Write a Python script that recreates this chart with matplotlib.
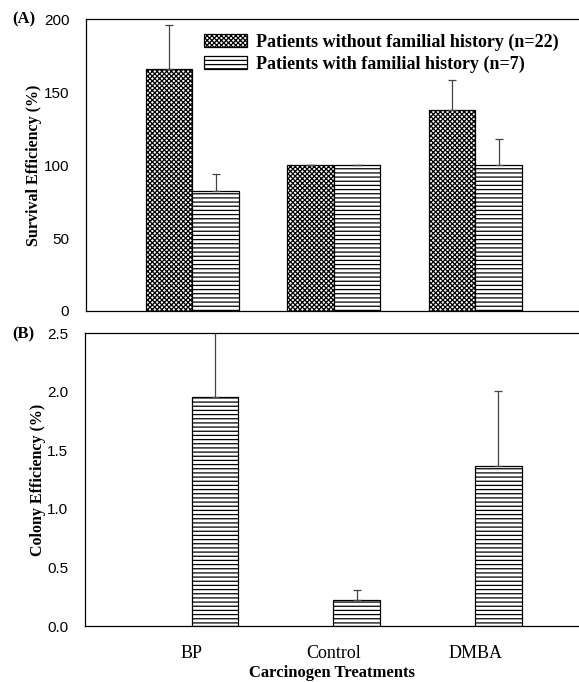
import numpy as np
import matplotlib.pyplot as plt

# data
treatments = ["BP", "Control", "DMBA"]
surv_without = [166, 100, 138]
surv_without_err = [30, 0, 20]
surv_with = [82, 100, 100]
surv_with_err = [12, 0, 18]
colony_with = [1.96, 0.22, 1.37]
colony_with_err = [0.65, 0.09, 0.64]

labels = ["Patients without familial history (n=22)",
          "Patients with familial history (n=7)"]

plt.rcParams["hatch.linewidth"] = 0.9
serif = "Liberation Serif"
sans = "Liberation Sans"

fig = plt.figure(figsize=(5.79, 6.82), dpi=100)
axA = fig.add_axes([0.1485, 0.544, 0.8515, 0.428])
axB = fig.add_axes([0.147, 0.0821, 0.853, 0.4292])

x = np.arange(len(treatments))
w = 0.329
err_kw = dict(ecolor="#444444", elinewidth=0.9, capsize=3, capthick=0.9)

axA.bar(x - w / 2, surv_without, w, color="white", edgecolor="black",
        hatch="xxxxxxx", linewidth=0.9, label=labels[0],
        yerr=[np.zeros(3), surv_without_err], error_kw=err_kw)
axA.bar(x + w / 2, surv_with, w, color="white", edgecolor="black",
        hatch="----", linewidth=0.9, label=labels[1],
        yerr=[np.zeros(3), surv_with_err], error_kw=err_kw)

axB.bar(x + w / 2, colony_with, w, color="white", edgecolor="black",
        hatch="----", linewidth=0.9,
        yerr=[np.zeros(3), colony_with_err], error_kw=err_kw)

for ax in (axA, axB):
    ax.set_xlim(-0.751, 2.733)
    ax.spines["right"].set_visible(False)
    for s in ("left", "top", "bottom"):
        ax.spines[s].set_linewidth(0.9)
    ax.tick_params(axis="y", length=0, pad=12, labelsize=11)
    ax.tick_params(axis="x", length=0)
    for t in ax.get_yticklabels():
        t.set_fontfamily(sans)

axA.set_ylim(0, 200)
axA.set_yticks([0, 50, 100, 150, 200])
axA.set_xticks([])
axA.set_ylabel("Survival Efficiency (%)", fontfamily=serif, fontweight="bold",
               fontsize=11.5, labelpad=1)
leg = axA.legend(loc="upper left", bbox_to_anchor=(0.225, 0.975), frameon=False,
                 prop=dict(family=serif, weight="bold", size=13),
                 handlelength=2.4, handleheight=0.7, handletextpad=0.5,
                 labelspacing=0.25, borderaxespad=0)

axB.set_ylim(0, 2.5)
axB.set_yticks([0, 0.5, 1.0, 1.5, 2.0, 2.5])
axB.set_yticklabels(["0.0", "0.5", "1.0", "1.5", "2.0", "2.5"], fontfamily=sans)
axB.set_xticks(x)
axB.set_xticklabels(treatments, fontfamily=serif, fontsize=13)
axB.tick_params(axis="x", pad=14)
axB.set_ylabel("Colony Efficiency (%)", fontfamily=serif, fontweight="bold",
               fontsize=11.5, labelpad=1)
axB.set_xlabel("Carcinogen Treatments", fontfamily=serif, fontweight="bold",
               fontsize=12, labelpad=2)

fig.text(0.022, 0.972, "(A)", fontfamily=serif, fontweight="bold", fontsize=12,
         va="center", ha="left")
fig.text(0.022, 0.509, "(B)", fontfamily=serif, fontweight="bold", fontsize=12,
         va="center", ha="left")

fig.savefig("out.png", dpi=100)
